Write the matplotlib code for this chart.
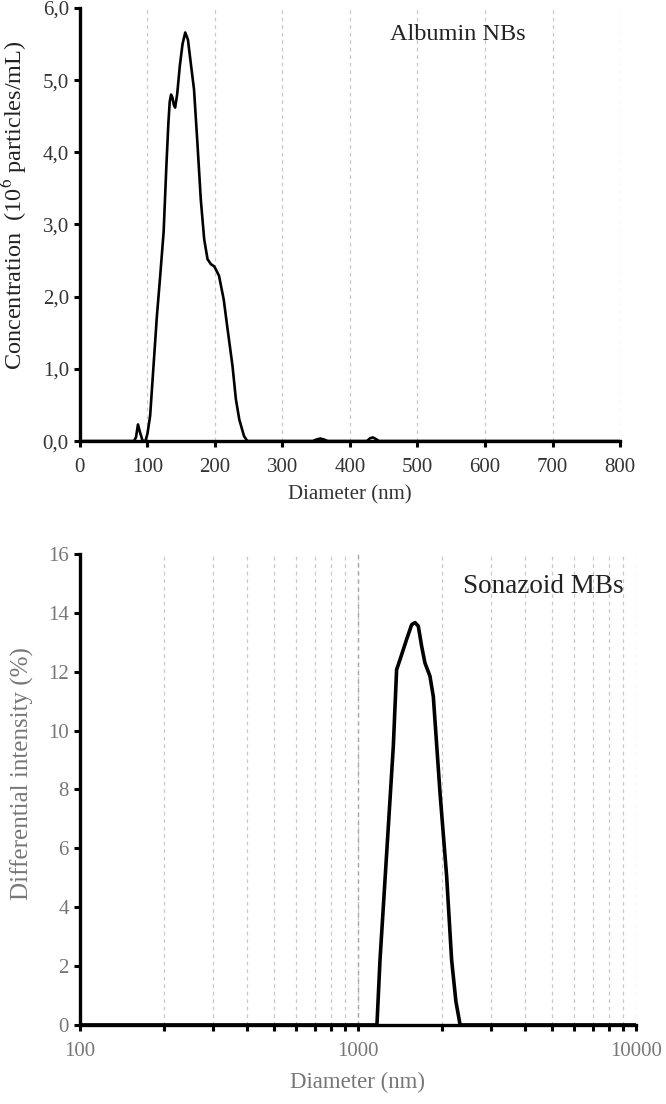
import matplotlib
matplotlib.use("Agg")
import matplotlib.pyplot as plt
from matplotlib.ticker import FixedLocator, FuncFormatter, NullFormatter
import numpy as np

plt.rcParams["font.family"] = ["Liberation Serif", "DejaVu Serif"]
plt.rcParams["mathtext.fontset"] = "stix"

# Albumin NBs (NTA): diameter (nm) vs concentration (10^6 particles/mL)
nb_diam = [0, 80, 83, 86, 89, 93, 97, 100, 104, 109, 114, 119, 124, 128, 131,
           133, 135, 137, 139, 141, 144, 148, 152, 156, 160, 164, 169, 174,
           179, 184, 189, 194, 199, 206, 213, 218, 226, 231, 236, 243, 248,
           345, 350, 356, 362, 367, 425, 430, 434, 438, 443, 800]
nb_conc = [0, 0, 0.05, 0.23, 0.12, 0.0, 0.0, 0.1, 0.35, 1.04, 1.73, 2.3, 2.9,
           3.8, 4.4, 4.7, 4.8, 4.76, 4.66, 4.62, 4.8, 5.2, 5.5, 5.66, 5.56,
           5.25, 4.87, 4.13, 3.35, 2.8, 2.52, 2.45, 2.42, 2.29, 1.96, 1.6,
           1.04, 0.58, 0.3, 0.07, 0.0, 0.0, 0.02, 0.035, 0.02, 0.0, 0.0, 0.04,
           0.05, 0.03, 0.0, 0.0]

# Sonazoid MBs (DLS): diameter (nm) vs differential intensity (%)
mb_diam = [100, 1170, 1200, 1285, 1340, 1377, 1415, 1496, 1560, 1603, 1648,
           1694, 1741, 1815, 1866, 1972, 2084, 2172, 2250, 2330, 10000]
mb_int = [0, 0, 2.2, 6.7, 9.47, 12.07, 12.4, 13.1, 13.6, 13.67, 13.55, 12.87,
          12.3, 11.85, 11.16, 7.9, 5.05, 2.2, 0.8, 0, 0]

nb_xticks = [0, 100, 200, 300, 400, 500, 600, 700, 800]
nb_yticks = [0, 1, 2, 3, 4, 5, 6]
mb_yticks = [0, 2, 4, 6, 8, 10, 12, 14, 16]
mb_grid = [200, 300, 400, 500, 600, 700, 800, 900, 1000,
           2000, 3000, 4000, 5000, 6000, 7000, 8000, 9000, 10000]

GRID = dict(color="#c8c8c8", linestyle=(0, (3, 3)), linewidth=0.9, zorder=0)


def style_axes(ax):
    for side in ("top", "right"):
        ax.spines[side].set_visible(False)
    for side in ("left", "bottom"):
        ax.spines[side].set_linewidth(2.4)
        ax.spines[side].set_zorder(4)
    ax.tick_params(which="both", direction="out", length=4, width=2.2)


fig = plt.figure(figsize=(6.66, 11.04), dpi=100)

# --- top panel ---
ax1 = fig.add_axes([0.120, 0.6005, 0.811, 0.3923])
for x in nb_xticks[1:]:
    ax1.axvline(x, **GRID)
ax1.plot(nb_diam, nb_conc, color="black", linewidth=1.9,
         solid_joinstyle="round", zorder=3)
ax1.set_xlim(0, 800)
ax1.set_ylim(0, 6)
ax1.set_xticks(nb_xticks)
ax1.set_yticks(nb_yticks)
ax1.yaxis.set_major_formatter(FuncFormatter(lambda v, p: f"{v:.1f}".replace(".", ",")))
style_axes(ax1)
ax1.tick_params(axis="x", labelsize=15, colors="black", labelcolor="#333333", pad=8)
ax1.tick_params(axis="y", labelsize=15, colors="black", labelcolor="#333333", pad=4)
ax1.set_xlabel("Diameter (nm)", fontsize=15, color="#333333", labelpad=6)
ax1.set_ylabel("Concentration  (10$^{6}$ particles/mL)", fontsize=17.5,
               color="#222222", va="center")
ax1.yaxis.set_label_coords(-0.122, 0.545)
ax1.text(0.574, 0.938, "Albumin NBs", transform=ax1.transAxes,
         fontsize=17.5, color="#222222", va="center", ha="left")

# --- bottom panel ---
ax2 = fig.add_axes([0.120, 0.0716, 0.835, 0.4266])
for x in mb_grid:
    ax2.axvline(x, **GRID)
ax2.axvline(1000, color="#a8a8a8", linestyle=(0, (3, 3)), linewidth=1.0, zorder=0)
ax2.plot(mb_diam, mb_int, color="black", linewidth=2.6,
         solid_joinstyle="round", zorder=3)
ax2.set_xscale("log")
ax2.set_xlim(100, 10000)
ax2.set_ylim(0, 16)
ax2.set_yticks(mb_yticks)
ax2.xaxis.set_major_locator(FixedLocator([100, 1000, 10000]))
ax2.xaxis.set_major_formatter(FuncFormatter(lambda v, p: f"{v:.0f}"))
ax2.xaxis.set_minor_formatter(NullFormatter())
style_axes(ax2)
ax2.tick_params(axis="x", labelsize=15, colors="black", labelcolor="#777777", pad=8)
ax2.tick_params(axis="y", labelsize=15, colors="black", labelcolor="#777777", pad=4)
ax2.set_xlabel("Diameter (nm)", fontsize=16.5, color="#777777", labelpad=8)
ax2.set_ylabel("Differential intensity (%)", fontsize=18, color="#777777", va="center")
ax2.yaxis.set_label_coords(-0.104, 0.533)
ax2.text(0.689, 0.93, "Sonazoid MBs", transform=ax2.transAxes,
         fontsize=19.5, color="#222222", va="center", ha="left")

fig.savefig("out.png", dpi=100)
